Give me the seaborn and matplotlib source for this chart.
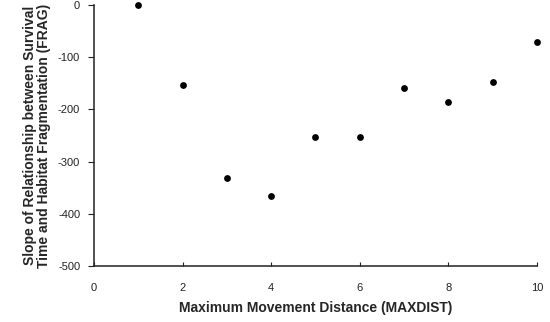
import matplotlib
matplotlib.use("Agg")
import matplotlib.pyplot as plt
import seaborn as sns
import pandas as pd

# Dados
maxdist = [1, 2, 3, 4, 5, 6, 7, 8, 9, 10]
slope_frag = [0, -154, -331, -365, -252, -253, -159, -185, -147, -70]

df = pd.DataFrame({"maxdist": maxdist, "slope": slope_frag})

sns.set_style("ticks")
plt.rcParams['font.family'] = ['Liberation Sans', 'DejaVu Sans']
plt.rcParams['axes.unicode_minus'] = False

fig = plt.figure(figsize=(5.5, 3.22), dpi=100)
ax = fig.add_axes([0.171, 0.174, 0.805, 0.81])

sns.scatterplot(x="maxdist", y="slope", data=df, color="black", s=24,
                edgecolor="black", linewidth=0, clip_on=False, ax=ax)

ax.set_xlim(0, 10)
ax.set_ylim(-500, 0)
ax.set_xticks([0, 2, 4, 6, 8, 10])
ax.set_yticks([0, -100, -200, -300, -400, -500])
sns.despine(ax=ax)
for s in ax.spines.values():
    s.set_linewidth(1.1)
    s.set_color("#222222")

ax.tick_params(axis="x", direction="in", length=3, labelsize=8, pad=12, colors="#222222")
ax.tick_params(axis="y", direction="out", length=4, labelsize=8, pad=6, colors="#222222")

ax.set_xlabel("Maximum Movement Distance (MAXDIST)", fontsize=10, fontweight="bold", labelpad=6)
ax.set_ylabel("Slope of Relationship between Survival\nTime and Habitat Fragmentation (FRAG)",
              fontsize=10, fontweight="bold", labelpad=5, linespacing=1.0)

plt.savefig("out.png", dpi=100)
plt.close()
